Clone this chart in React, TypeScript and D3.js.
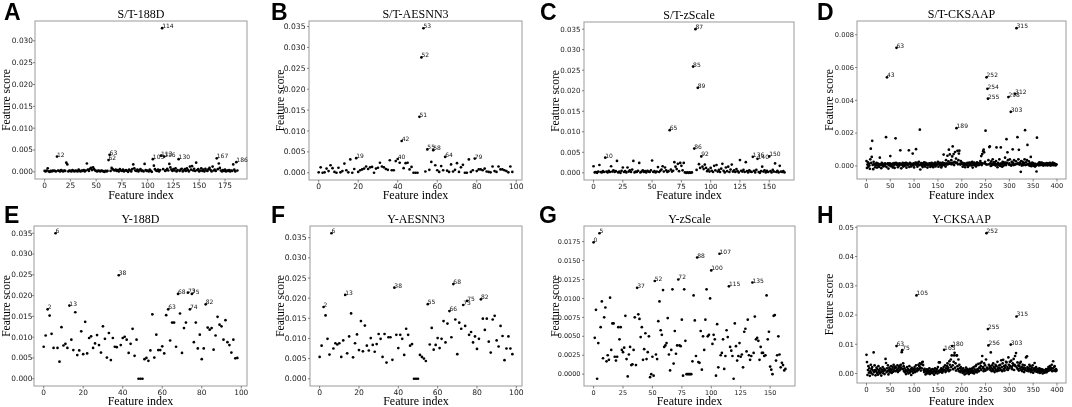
import React from 'react';
import * as d3 from 'd3';

// ---------- data (values in the unit given per panel) ----------
// S/T-188D, unit 1e-4
const st188d = [
  2,1,3,8,1,0,2,1,3,2, 2,1,35,3,2,1,4,2,1,3, 2,21,17,1,3,2,1,4,2,1, 3,2,1,5,2,1,3,2,4,1,
  3,19,5,2,7,9,4,10,6,3, 2,1,3,2,1,3,2,1,0,2, 1,2,27,39,2,9,6,4,3,5, 2,4,1,6,3,2,5,1,3,4,
  2,0,5,3,1,6,17,8,3,2, 5,1,4,6,2,3,1,18,4,2, 3,1,5,2,0,29,14,6,3,2, 5,1,4,37,329,6,35,2,4,7,
  3,18,10,5,2,6,3,8,1,4, 29,2,5,7,1,3,6,2,8,4, 1,12,5,13,3,7,2,21,4,6, 1,3,8,2,5,1,7,3,2,6,
  9,4,1,12,3,5,2,31,6,19, 9,3,1,4,2,5,1,3,2,4, 1,3,2,17,5,1,22,3,
];
// S/T-AESNN3, unit 1e-4
const stAesnn3 = [
  1,13,0,1,10,4,18,11,2,0, 12,1,4,22,6,1,32,0,9,35, 2,6,8,10,15,9,13,14,0,10,
  12,24,15,13,9,7,30,6,6,28, 33,24,76,11,23,24,8,14,0,0, 0,134,276,346,3,56,7,26,54,18,
  6,2,16,6,38,5,2,20,3,7, 23,2,13,19,0,0,32,2,6,34, 4,8,8,6,10,3,2,1,15,4,
  2,15,8,8,6,4,1,15,2,
];
// S/T-zScale, unit 1e-4
const stZscale = [
  16,1,2,0,3,19,2,1,4,2, 37,3,1,5,2,16,3,6,2,4, 29,1,3,0,5,13,2,4,1,13, 3,6,2,8,29,1,3,2,5,24,
  1,3,6,2,4,1,5,3,2,6, 30,2,4,1,3,14,2,5,8,16, 3,13,6,2,4,104,8,3,5,26, 15,9,22,4,24,17,6,24,1,0,
  1,0,1,0,1,259,59,350,7,207, 21,12,40,15,9,20,12,4,8,3, 12,5,2,17,6,19,3,7,2,10, 22,5,1,13,4,15,2,8,20,3,
  6,2,9,4,1,31,5,3,7,2, 26,4,1,6,3,2,39,5,1,7, 34,2,0,4,15,3,6,1,5,2, 40,4,1,7,3,23,2,5,1,17,
  3,2,4,1,
];
// S/T-CKSAAP, unit 1e-5
const stCksaap = [
  30,-12,8,22,-5,14,3,-18,40,105, 18,55,153,6,-20,25,10,10,-8,12,
  5,18,-10,15,2,12,-6,9,50,10, 4,-14,18,7,12,-3,11,5,0,16,
  8,175,-7,540,12,16,-16,4,13,15, 60,-2,9,8,12,-9,14,3,17,-12,
  10,168,18,720,5,14,-8,12,10,2, 16,95,9,-15,11,6,18,-4,13,5,
  0,17,8,18,-11,14,4,12,10,95, -6,19,13,7,-3,12,6,75,5,15,
  -9,10,11,20,102,6,18,-5,14,9, 25,4,221,-22,10,17,2,16,-7,11,
  8,21,3,-4,19,5,16,11,-10,7, 3,14,9,15,-6,12,2,19,1,8,
  -8,14,5,6,20,-3,11,12,7,16, 25,-5,11,10,18,3,17,-9,14,2,
  20,8,69,5,15,12,-4,35,8,15, 62,10,28,99,15,70,12,18,35,10,
  58,119,20,72,5,25,85,18,45,230, 20,92,10,35,75,93,12,8,30,15,
  12,20,-5,10,8,16,5,-8,12,10, 14,4,18,-6,15,2,20,7,9,18,
  3,6,25,-10,12,9,20,4,5,14, -3,8,22,11,6,17,5,13,10,30,
  18,60,5,72,15,90,99,83,15,25, 215,10,540,8,470,410,35,10,115,119,
  15,0,28,12,5,40,8,20,22,8, 15,2,30,113,10,-8,18,5,8,40,
  12,0,113,15,8,-5,25,15,2,20, 10,50,20,5,163,18,83,35,420,8,
  15,40,5,330,2,25,10,101,18,5, 35,8,440,10,28,840,12,175,15,40,
  98,8,20,15,-36,30,2,10,25,10, 5,18,40,218,5,22,8,35,128,10,
  10,28,2,15,12,55,-2,8,20,5, 15,0,12,8,-4,12,2,-34,172,10,
  8,15,3,22,10,18,5,12,20,7, 14,2,16,9,11,4,13,6,17,10,
  3,15,8,12,5,18,10,2,14,7, 11,20,4,9,16,6,12,3,10,8,
];
// Y-188D, unit 1e-4
const y188d = [
  77,104,167,152,108,74,350,74,41,124, 80,84,74,176,94,69,160,57,68,114,
  59,137,61,98,102,74,85,105,81,63, 126,96,51,110,45,98,77,76,249,81,
  98,101,94,62,84,120,55,94,0,0, 0,47,50,43,68,155,51,106,69,69,
  78,61,153,167,92,135,135,77,204,157, 62,122,135,207,167,204,88,135,73,106,
  47,73,179,123,118,122,70,104,149,130, 126,94,141,88,81,63,94,49,50,
];
// Y-AESNN3, unit 1e-4
const yAesnn3 = [
  54,82,178,157,99,60,361,75,88,85, 88,54,95,208,63,105,162,53,88,110,
  71,143,68,132,82,70,101,84,67,86, 111,99,54,111,40,103,103,47,226,109,
  76,109,99,59,124,109,82,86,0,0, 0,59,54,50,44,185,85,126,72,84,
  101,76,99,143,90,137,168,103,235,147, 61,139,124,183,131,193,109,116,90,105,
  74,99,197,149,121,149,92,65,147,156, 95,80,131,106,46,75,105,75,61,
];
// Y-zScale, unit 1e-4
const yZscale = [
  174,48,85,-6,41,186,62,96,21,75, 88,17,25,19,101,32,67,67,23,18,
  23,62,46,62,32,29,35,77,20,-3, 26,36,12,13,32,75,12,114,79,73,
  49,62,19,33,54,20,29,50,-4,0, 23,-2,123,26,20,70,96,58,52,111,
  36,38,41,74,26,5,32,112,14,57, 27,38,125,38,37,72,-2,112,44,0,
  0,0,0,0,17,104,71,24,154,16, 15,57,6,50,32,72,112,50,52,100,
  137,40,52,46,-2,66,9,159,25,28, 46,7,24,58,49,116,36,31,24,-6,
  67,37,18,24,41,23,26,9,56,60, 30,72,25,19,24,121,28,76,46,48,
  44,19,36,28,28,24,25,104,46,56, 10,6,0,77,78,18,25,50,26,9,
  15,12,5,7,
];
// Y-CKSAAP, unit 1e-4
const yCksaap = [
  64,39,-5,12,25,3,18,-8,8,30, 2,15,22,-3,10,72,5,28,12,-6,
  8,20,2,14,-4,25,6,11,0,18, 4,-7,13,7,22,1,9,16,-2,12,
  50,36,5,18,8,28,-3,12,20,4, 15,9,25,2,14,22,6,30,11,18,
  24,8,20,94,12,28,5,17,22,10, 26,14,30,20,73,80,15,35,25,8,
  18,4,12,-2,9,22,6,15,0,11, 25,3,8,14,-5,19,7,12,2,16,
  10,22,5,14,28,267,8,18,12,30, 15,25,35,20,10,32,18,38,40,29,
  12,5,16,8,-3,10,2,14,6,0, 11,4,18,-2,9,3,13,7,1,15,
  5,12,-4,8,18,2,10,6,15,0, 22,8,38,4,38,12,6,18,10,3,
  15,8,22,81,12,28,5,18,10,25, 35,14,20,8,42,30,12,48,22,62,
  94,28,15,40,62,71,20,35,10,62, 62,25,15,48,8,30,18,5,22,12,
  8,14,2,18,5,10,-3,12,6,20, 0,9,15,4,11,-2,7,16,3,10,
  5,12,18,2,8,22,0,14,6,25, 10,30,4,15,12,33,8,20,18,35,
  25,12,40,60,18,22,8,35,15,28, 10,48,480,20,14,152,96,30,18,25,
  12,72,20,8,28,15,35,10,22,5, 18,30,12,25,8,40,15,20,10,28,
  18,30,12,45,22,8,35,47,15,25, 10,20,28,40,38,14,22,12,55,30,
  18,40,25,99,44,22,15,35,28,50, 12,30,60,25,70,195,20,38,15,28,
  10,25,35,18,40,12,22,8,30,15, 20,5,28,12,18,55,10,59,22,14,
  8,18,30,12,25,5,15,20,10,28, 3,12,18,36,8,14,22,6,10,16,
  4,12,8,18,2,10,15,5,9,14, 0,8,12,6,3,10,7,15,4,11,
  8,15,22,10,18,25,12,20,14,30, 8,18,42,10,22,25,12,8,15,10,
];

// annotated feature indices
const annA = [12, 62, 63, 105, 113, 114, 116, 130, 167, 186];
const annB = [19, 40, 42, 51, 52, 53, 55, 58, 64, 79];
const annC = [10, 65, 85, 86, 87, 89, 92, 136, 140, 150];
const annD = [43, 63, 189, 252, 254, 255, 298, 303, 312, 315];
const annE = [2, 6, 13, 38, 63, 68, 73, 74, 75, 82];
const annF = [2, 6, 13, 38, 55, 66, 68, 73, 75, 82];
const annG = [0, 5, 37, 52, 72, 88, 100, 107, 115, 135];
const annH = [63, 75, 105, 163, 180, 252, 255, 256, 303, 315];

// tick values
const xTicks175 = [0, 25, 50, 75, 100, 125, 150, 175];
const xTicks100 = [0, 20, 40, 60, 80, 100];
const xTicks150 = [0, 25, 50, 75, 100, 125, 150];
const xTicks400 = [0, 50, 100, 150, 200, 250, 300, 350, 400];
const yTicks030 = [0, 0.005, 0.01, 0.015, 0.02, 0.025, 0.03];
const yTicks035 = [0, 0.005, 0.01, 0.015, 0.02, 0.025, 0.03, 0.035];
const yTicks008 = [0, 0.002, 0.004, 0.006, 0.008];
const yTicks0175 = [0, 0.0025, 0.005, 0.0075, 0.01, 0.0125, 0.015, 0.0175];
const yTicks05 = [0, 0.01, 0.02, 0.03, 0.04, 0.05];

const titles = ['S/T-188D', 'S/T-AESNN3', 'S/T-zScale', 'S/T-CKSAAP', 'Y-188D', 'Y-AESNN3', 'Y-zScale', 'Y-CKSAAP'];
const letters = ['A', 'B', 'C', 'D', 'E', 'F', 'G', 'H'];

// ---------- layout ----------
type Cfg = {
  values: number[]; unit: number; ann: number[]; xTicks: number[]; yTicks: number[]; dec: number;
  frame: [number, number, number, number]; tf: number; to: number; ylx: number; lx: number;
};
const panels: Cfg[] = [
  { values: st188d, unit: 1e-4, ann: annA, xTicks: xTicks175, yTicks: yTicks030, dec: 3, frame: [35, 21, 247, 179], tf: 7.4, to: 2, ylx: 10, lx: 4 },
  { values: stAesnn3, unit: 1e-4, ann: annB, xTicks: xTicks100, yTicks: yTicks035, dec: 3, frame: [309, 21, 522, 180], tf: 7.6, to: 3.5, ylx: 283.5, lx: 271 },
  { values: stZscale, unit: 1e-4, ann: annC, xTicks: xTicks150, yTicks: yTicks035, dec: 3, frame: [584, 22, 794, 180], tf: 7.1, to: 3.5, ylx: 559, lx: 540 },
  { values: stCksaap, unit: 1e-5, ann: annD, xTicks: xTicks400, yTicks: yTicks008, dec: 3, frame: [857, 21, 1066, 179], tf: 6.7, to: 3, ylx: 832.5, lx: 817 },
  { values: y188d, unit: 1e-4, ann: annE, xTicks: xTicks100, yTicks: yTicks035, dec: 3, frame: [34, 226, 247, 386], tf: 7.4, to: 1.5, ylx: 10, lx: 4 },
  { values: yAesnn3, unit: 1e-4, ann: annF, xTicks: xTicks100, yTicks: yTicks035, dec: 3, frame: [310, 226, 522, 386], tf: 7.6, to: 3.5, ylx: 284, lx: 271 },
  { values: yZscale, unit: 1e-4, ann: annG, xTicks: xTicks150, yTicks: yTicks0175, dec: 4, frame: [584, 226, 795, 386], tf: 6.5, to: 3.5, ylx: 559, lx: 539 },
  { values: yCksaap, unit: 1e-4, ann: annH, xTicks: xTicks400, yTicks: yTicks05, dec: 2, frame: [857, 226, 1066, 383], tf: 7, to: 3, ylx: 833, lx: 817 },
];

const SERIF = '"Liberation Serif", "Times New Roman", serif';
const SANS = '"DejaVu Sans", sans-serif';
const FRAME = '#9a9a9a';

function Panel({ cfg, i }: { cfg: Cfg; i: number }) {
  const [l, t, r, b] = cfg.frame;
  const vals = cfg.values.map((v) => v * cfg.unit);
  const n = vals.length;
  const x = d3.scaleLinear().domain([-(n - 1) * 0.05, (n - 1) * 1.05]).range([l, r]);
  const [mn, mx] = d3.extent(vals) as [number, number];
  const pad = (mx - mn) * 0.05;
  const y = d3.scaleLinear().domain([mn - pad, mx + pad]).range([b, t]);
  const fmt = d3.format(`.${cfg.dec}f`);
  const row = i < 4 ? 0 : 1;
  const cx = (l + r) / 2;
  return (
    <g>
      <text x={cfg.lx} y={row === 0 ? 19.5 : 223} fontFamily='"Liberation Sans", Arial, sans-serif' fontWeight="bold" fontSize={23} fill="#000">
        {letters[i]}
      </text>
      <text x={cx} y={t - 3.5} textAnchor="middle" fontFamily={SERIF} fontSize={12} fill="#000">
        {titles[i]}
      </text>
      <rect x={l} y={t} width={r - l} height={b - t} fill="#fff" stroke={FRAME} strokeWidth={1} />
      {cfg.yTicks.map((v) => (
        <g key={'y' + v}>
          <line x1={l - 2} x2={l} y1={y(v)} y2={y(v)} stroke="#555" strokeWidth={0.7} />
          <text x={l - cfg.to} y={y(v)} dy="0.33em" textAnchor="end" fontFamily={SANS} fontSize={cfg.tf} fill="#222">
            {fmt(v)}
          </text>
        </g>
      ))}
      {cfg.xTicks.map((v) => (
        <g key={'x' + v}>
          <line x1={x(v)} x2={x(v)} y1={b} y2={b + 2.5} stroke="#555" strokeWidth={0.7} />
          <text x={x(v)} y={b + 9} textAnchor="middle" fontFamily={SANS} fontSize={cfg.tf} fill="#222">
            {v}
          </text>
        </g>
      ))}
      {vals.map((v, k) => (
        <circle key={k} cx={x(k)} cy={y(v)} r={1.35} fill="#000" />
      ))}
      {cfg.ann.map((k) => (
        <text key={'a' + k} x={x(k)} y={y(vals[k])} fontFamily={SANS} fontSize={6} fill="#111">
          {k}
        </text>
      ))}
      <text x={cx} y={row === 0 ? 199 : 405} textAnchor="middle" fontFamily={SERIF} fontSize={12} fill="#000">
        Feature index
      </text>
      <text transform={`translate(${cfg.ylx},${(t + b) / 2}) rotate(-90)`} textAnchor="middle" fontFamily={SERIF} fontSize={11.5} fill="#000">
        Feature score
      </text>
    </g>
  );
}

export default function App() {
  return (
    <svg width={1072} height={407} viewBox="0 0 1072 407" style={{ position: 'fixed', left: 0, top: 0, background: '#fff', filter: 'grayscale(1)' }}>
      <rect x={0} y={0} width={1072} height={407} fill="#fff" />
      {panels.map((p, i) => (
        <Panel key={i} cfg={p} i={i} />
      ))}
    </svg>
  );
}
